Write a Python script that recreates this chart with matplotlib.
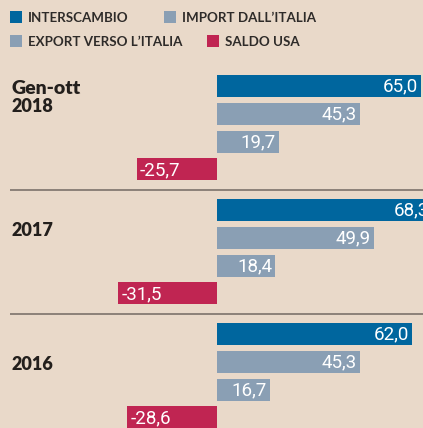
import matplotlib
matplotlib.use("Agg")
import matplotlib.pyplot as plt
from matplotlib.patches import Rectangle

groups = ["Gen-ott\n2018", "2017", "2016"]
series = ["INTERSCAMBIO", "IMPORT DALL\u2019ITALIA", "EXPORT VERSO L\u2019ITALIA", "SALDO USA"]
interscambio = [65.0, 68.3, 62.0]
import_italia = [45.3, 49.9, 45.3]
export_italia = [19.7, 18.4, 16.7]
saldo_usa = [-25.7, -31.5, -28.6]

colors = ["#00669e", "#8a9fb4", "#8a9fb4", "#c02552"]
bg = "#e9d9c9"

W, H = 423, 428
fig = plt.figure(figsize=(W / 100, H / 100), dpi=100, facecolor=bg)
ax = fig.add_axes([0, 0, 1, 1])
ax.set_facecolor(bg)
ax.axis("off")

scale = 3.14  # px per unit
zero_px = 217.3
xmin = -zero_px / scale
xmax = (W - zero_px) / scale
ax.set_xlim(xmin, xmax)
ax.set_ylim(H, 0)

def px(xp):
    return xmin + xp / scale

first_top = 75.0
group_pitch = 124.0
bar_pitch = 27.8
bar_h = 22.0

all_series = [interscambio, import_italia, export_italia, saldo_usa]
font = "Roboto"
for g in range(len(groups)):
    base = first_top + g * group_pitch
    for k, vals in enumerate(all_series):
        v = vals[g]
        yc = base + k * bar_pitch + bar_h / 2
        ax.barh(yc, v, height=bar_h, left=0, color=colors[k], edgecolor="none")
        lab = f"{v:.1f}".replace(".", ",")
        if v >= 0:
            ax.text(v - 3 / scale, yc + 0.5, lab, ha="right", va="center",
                    color="white", fontsize=13.5, family=font, clip_on=True)
        else:
            ax.text(v + 3 / scale, yc + 0.5, lab, ha="left", va="center",
                    color="white", fontsize=13.5, family=font)
    if g < len(groups) - 1:
        sep_y = base + 4 * bar_pitch + 3.5
        ax.plot([px(10), px(W)], [sep_y, sep_y], color="#8c8178", lw=1.4,
                solid_capstyle="butt")

lab_kw = dict(ha="left", va="center", fontweight="heavy", family="Lato",
              color="#231f1c")
ax.text(px(11), 88, "Gen-ott", fontsize=14, **lab_kw)
ax.text(px(11), 106.5, "2018", fontsize=13, **lab_kw)
ax.text(px(11), 230.5, "2017", fontsize=13, **lab_kw)
ax.text(px(11), 364, "2016", fontsize=13, **lab_kw)

leg_pos = [(10, 11), (164, 11), (10, 35), (207, 35)]
for (lx, ly), name, c in zip(leg_pos, series, colors):
    ax.add_patch(Rectangle((px(lx), ly), 12 / scale, 12, color=c, lw=0))
    ax.text(px(lx + 18), ly + 6.5, name, ha="left", va="center", fontsize=9.6,
            fontweight="bold", family="Lato", color="#2e2b29")

fig.savefig("out.png", dpi=100, facecolor=bg)
